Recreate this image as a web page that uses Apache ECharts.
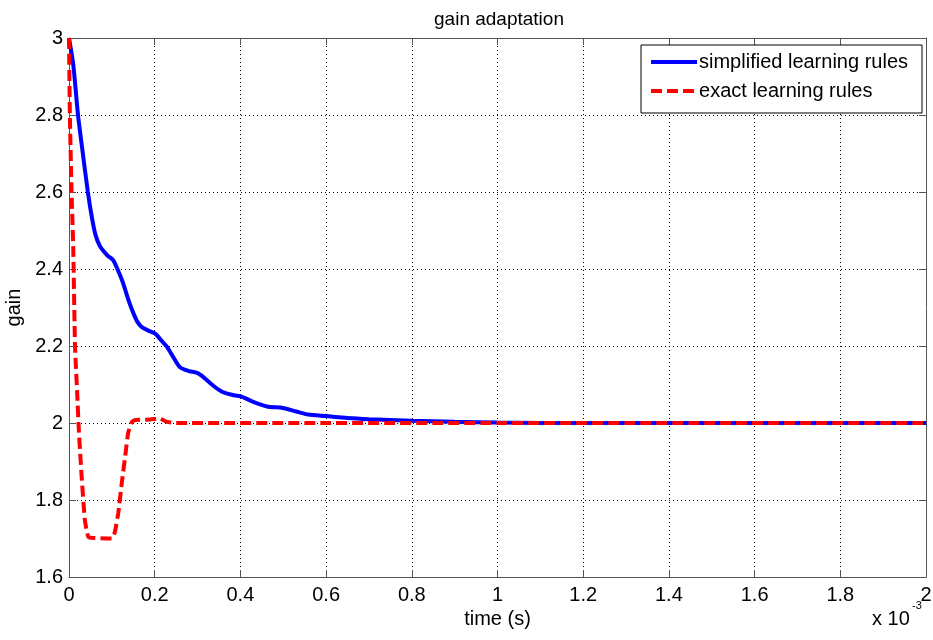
<!DOCTYPE html>
<html>
<head>
<meta charset="utf-8">
<script src="https://cdn.jsdelivr.net/npm/echarts@6/dist/echarts.min.js"></script>
<style>
html,body{margin:0;padding:0;background:#fff;}
#chart{width:933px;height:640px;}
</style>
</head>
<body>
<div id="chart"></div>
<script>
// time in units of 1e-3 s
var simplifiedTime = [0,0.01,0.021,0.03,0.044,0.054,0.062,0.072,0.09,0.103,0.115,0.126,0.14,0.15,0.16,0.17,0.185,0.201,0.215,0.229,0.245,0.259,0.28,0.299,0.315,0.329,0.35,0.364,0.385,0.404,0.43,0.462,0.499,0.53,0.558,0.6,0.65,0.7,0.8,0.9,1.0,1.2,1.6,2.0];
var simplifiedGain = [3,2.93,2.8,2.72,2.6,2.53,2.488,2.46,2.435,2.423,2.395,2.364,2.315,2.286,2.262,2.249,2.24,2.232,2.215,2.197,2.168,2.145,2.135,2.13,2.118,2.104,2.086,2.078,2.072,2.068,2.055,2.043,2.039,2.03,2.022,2.018,2.013,2.01,2.006,2.003,2.001,2.0,2.0,2.0];
var exactTime = [0,0.002,0.006,0.01,0.014,0.019,0.023,0.03,0.037,0.042,0.046,0.1,0.107,0.115,0.124,0.131,0.138,0.147,0.155,0.19,0.21,0.229,0.25,0.6,1.0,1.5,2.0];
var exactGain = [3,2.8,2.6,2.45,2.2,2.08,1.98,1.852,1.748,1.717,1.703,1.70,1.717,1.766,1.852,1.912,1.974,2.003,2.008,2.009,2.012,2.003,2.0,2.0,2.0,2.0,2.0];
var seriesNames = ['simplified learning rules','exact learning rules'];
var xTicks = {min:0, max:2, step:0.2};
var yTicks = {min:1.6, max:3, step:0.2};

function pairs(xs, ys){ return xs.map(function(x,i){ return [x, ys[i]]; }); }

var FONT = '"Liberation Sans", Arial, Helvetica, sans-serif';
var axisCol = '#555';
var fmt = function(v){ return String(+(+v).toFixed(2)); };

var chart = echarts.init(document.getElementById('chart'), null, {renderer:'canvas'});
chart.setOption({
  animation:false,
  backgroundColor:'#fff',
  textStyle:{fontFamily:FONT},
  title:{
    text:'gain adaptation', left:494, top:5, textAlign:'center',
    textStyle:{fontSize:19, fontWeight:'normal', color:'#000', fontFamily:FONT}
  },
  grid:{left:69, right:7, top:38, bottom:63, containLabel:false, outerBoundsMode:'none'},
  legend:{
    orient:'vertical', right:11, top:45,
    backgroundColor:'#fff', borderColor:'#000', borderWidth:1, borderRadius:0,
    padding:[7,14,12,8], itemGap:9, itemWidth:46, itemHeight:16,
    itemStyle:{opacity:0},
    lineStyle:{width:4},
    textStyle:{fontSize:20, color:'#000', fontFamily:FONT, padding:[0,0,0,-3]},
    data:seriesNames
  },
  xAxis:[{
    type:'value', min:xTicks.min, max:xTicks.max, interval:xTicks.step, position:'bottom',
    name:'time (s)', nameLocation:'middle', nameGap:31,
    nameTextStyle:{fontSize:20, color:'#000', fontFamily:FONT},
    axisLine:{show:true, onZero:false, lineStyle:{color:axisCol, width:1}},
    axisTick:{show:true, inside:true, length:7, lineStyle:{color:axisCol}},
    axisLabel:{fontSize:20, color:'#000', margin:8, formatter:fmt, fontFamily:FONT},
    splitLine:{show:true, lineStyle:{color:'#000', type:[1,3], width:1}}
  },{
    type:'value', min:xTicks.min, max:xTicks.max, interval:xTicks.step, position:'top',
    axisLine:{show:true, onZero:false, lineStyle:{color:axisCol, width:1}},
    axisTick:{show:true, inside:true, length:7, lineStyle:{color:axisCol}},
    axisLabel:{show:false}, splitLine:{show:false}
  }],
  yAxis:[{
    type:'value', min:yTicks.min, max:yTicks.max, interval:yTicks.step, position:'left',
    name:'gain', nameLocation:'middle', nameGap:34, nameRotate:90,
    nameTextStyle:{fontSize:20, color:'#000', fontFamily:FONT},
    axisLine:{show:true, onZero:false, lineStyle:{color:axisCol, width:1}},
    axisTick:{show:true, inside:true, length:7, lineStyle:{color:axisCol}},
    axisLabel:{fontSize:20, color:'#000', margin:6, formatter:fmt, fontFamily:FONT},
    splitLine:{show:true, lineStyle:{color:'#000', type:[1,3], width:1}}
  },{
    type:'value', min:yTicks.min, max:yTicks.max, interval:yTicks.step, position:'right',
    axisLine:{show:true, onZero:false, lineStyle:{color:axisCol, width:1}},
    axisTick:{show:true, inside:true, length:7, lineStyle:{color:axisCol}},
    axisLabel:{show:false}, splitLine:{show:false}
  }],
  series:[{
    name:seriesNames[0], type:'line', xAxisIndex:0, yAxisIndex:0,
    data:pairs(simplifiedTime, simplifiedGain),
    showSymbol:false, symbol:'none', smooth:0.25,
    lineStyle:{color:'#0000ff', width:4},
    itemStyle:{color:'#0000ff'}, z:2
  },{
    name:seriesNames[1], type:'line', xAxisIndex:0, yAxisIndex:0,
    data:pairs(exactTime, exactGain),
    showSymbol:false, symbol:'none', smooth:0.15,
    lineStyle:{color:'#ff0000', width:4, type:[11,5]},
    itemStyle:{color:'#ff0000'}, z:3
  }],
  graphic:[
    {type:'text', left:872, top:609, style:{text:'x 10', fill:'#000', font:'20px ' + FONT}},
    {type:'text', left:912, top:600, style:{text:'-3', fill:'#000', font:'11px ' + FONT}}
  ]
});
</script>
</body>
</html>
